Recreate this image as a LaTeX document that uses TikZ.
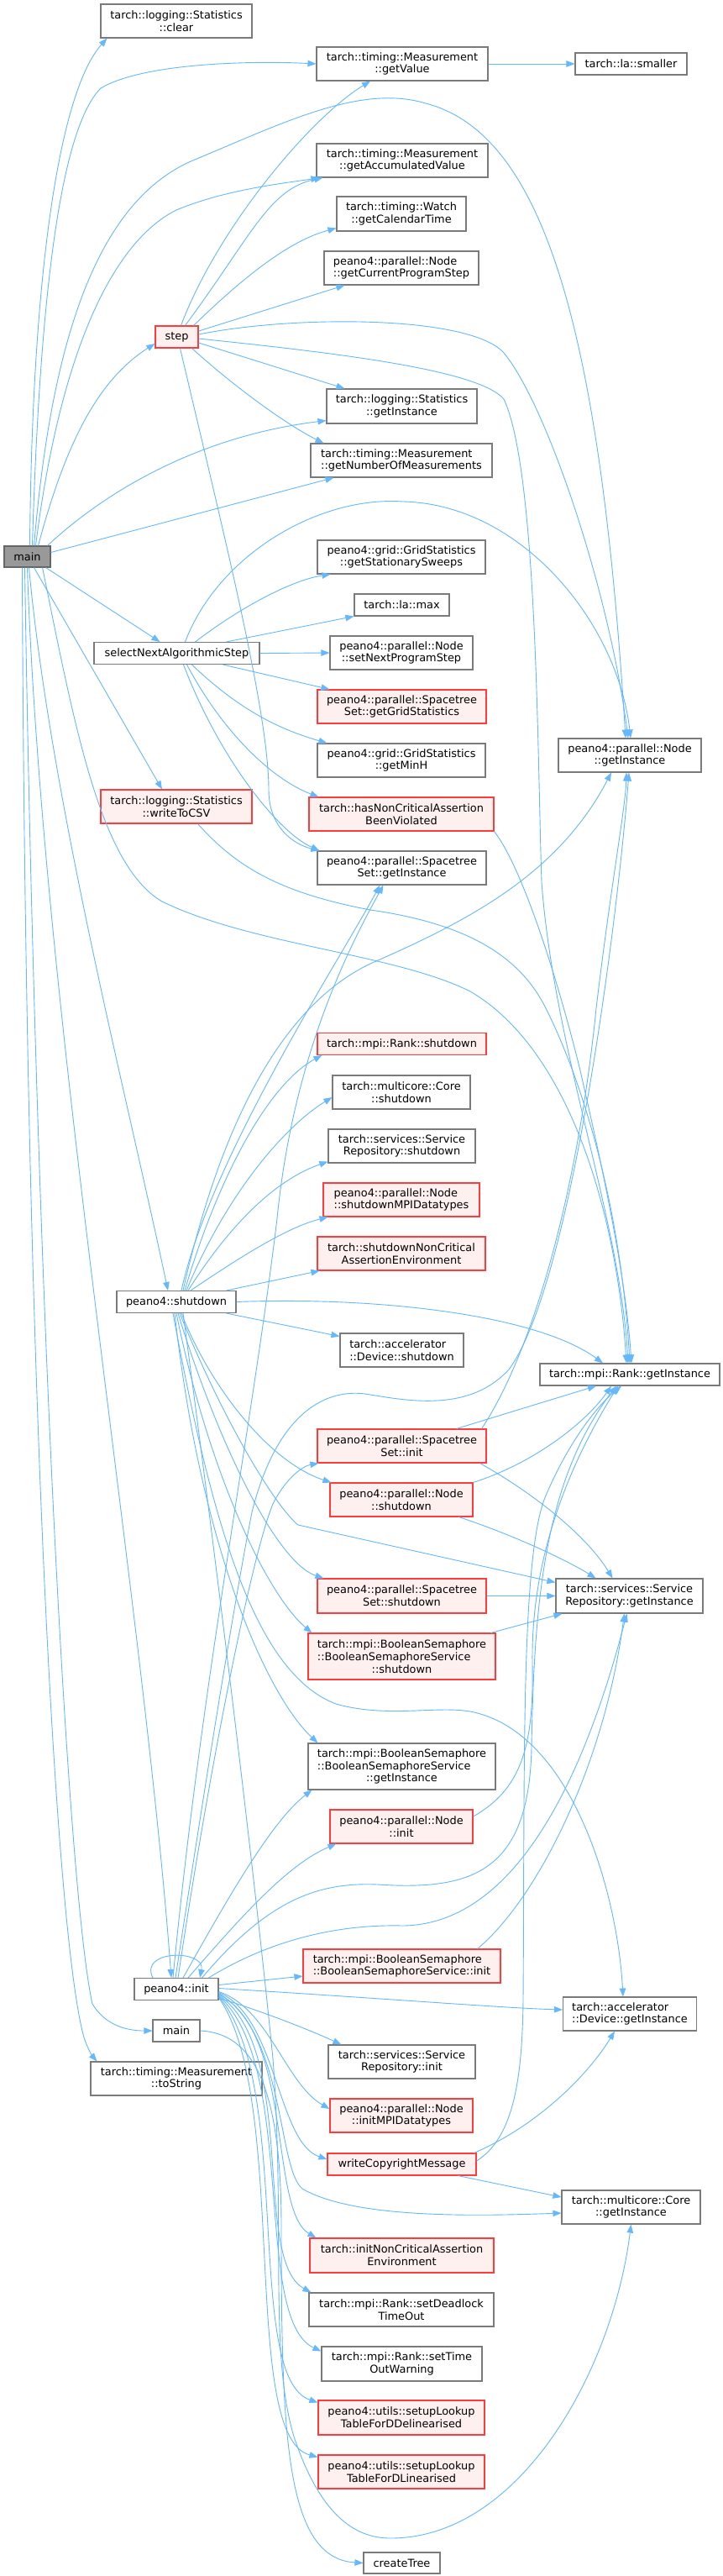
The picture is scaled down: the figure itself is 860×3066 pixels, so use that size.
\documentclass[tikz,border=0pt]{standalone}
\usepackage{fontspec}
\setmainfont{DejaVu Sans}
\usetikzlibrary{arrows.meta,calc}
\definecolor{edgeblue}{HTML}{63B8FF}
\definecolor{nodegray}{HTML}{7A7A7A}
\definecolor{redborder}{HTML}{FF3B3B}
\definecolor{redfill}{HTML}{FFF0F0}
\definecolor{mainfill}{HTML}{999999}
\definecolor{mainborder}{HTML}{666666}
\tikzset{
  fn/.style={draw=nodegray, fill=white, line width=1.1pt, inner sep=0pt, align=center,
             font=\fontsize{12.9}{14.7}\selectfont},
  redfn/.style={fn, draw=redborder, fill=redfill},
  rootfn/.style={fn, draw=mainborder, fill=mainfill},
  calls/.style={draw=edgeblue, line width=0.9pt, -{Triangle[length=10pt,width=7.5pt]}},
}
\newcommand{\bsline}[1]{\rlap{#1}\phantom{tarch::mpi::BooleanSemaphore}}
\begin{document}
\begin{tikzpicture}[x=1pt,y=-1pt]
\fill[white] (0,0) rectangle (860,3066);
\useasboundingbox (0,0) rectangle (860,3066);

% ---------- nodes ----------
\node[rootfn, minimum width=55pt, minimum height=25pt] (m1) at (32.5,662.5) {main};
\node[fn, minimum width=180pt, minimum height=40pt] (clr) at (210,25) {tarch::logging::Statistics\\::clear};
\node[fn, minimum width=204pt, minimum height=40pt] (gv) at (479,76) {tarch::timing::Measurement\\::getValue};
\node[fn, minimum width=133pt, minimum height=26pt] (sml) at (751.5,76) {tarch::la::smaller};
\node[fn, minimum width=204pt, minimum height=40pt] (gav) at (479,191) {tarch::timing::Measurement\\::getAccumulatedValue};
\node[fn, minimum width=154pt, minimum height=41pt] (gct) at (478,254.5) {tarch::timing::Watch\\::getCalendarTime};
\node[fn, align=left, minimum width=184pt, minimum height=40pt] (gcps) at (478,319) {peano4::parallel::Node\\::getCurrentProgramStep};
\node[redfn, minimum width=51pt, minimum height=26pt] (stp) at (210.5,401) {step};
\node[fn, minimum width=179pt, minimum height=41pt] (sgi) at (478.5,483.5) {tarch::logging::Statistics\\::getInstance};
\node[fn, align=left, minimum width=216pt, minimum height=40pt] (gnm) at (478,548) {tarch::timing::Measurement\\::getNumberOfMeasurements};
\node[fn, minimum width=200pt, minimum height=40pt] (gss) at (478,663) {peano4::grid::GridStatistics\\::getStationarySweeps};
\node[fn, minimum width=113pt, minimum height=26pt] (lmax) at (478.5,720) {tarch::la::max};
\node[fn, minimum width=197pt, minimum height=26pt] (snas) at (210.5,777.5) {selectNextAlgorithmicStep};
\node[fn, minimum width=170pt, minimum height=40pt] (snps) at (478,777) {peano4::parallel::Node\\::setNextProgramStep};
\node[redfn, minimum width=201pt, minimum height=40pt] (ggs) at (478.5,841) {peano4::parallel::Spacetree\\Set::getGridStatistics};
\node[fn, minimum width=200pt, minimum height=40pt] (gmh) at (478,905) {peano4::grid::GridStatistics\\::getMinH};
\node[fn, minimum width=170pt, minimum height=40pt] (ngi) at (750,899) {peano4::parallel::Node\\::getInstance};
\node[redfn, minimum width=180pt, minimum height=40pt] (wcsv) at (210,960) {tarch::logging::Statistics\\::writeToCSV};
\node[redfn, minimum width=220pt, minimum height=40pt] (hnc) at (478,969) {tarch::hasNonCriticalAssertion\\BeenViolated};
\node[fn, minimum width=201pt, minimum height=40pt] (stgi) at (478.5,1033) {peano4::parallel::Spacetree\\Set::getInstance};
\node[redfn, minimum width=201pt, minimum height=26pt] (rsd) at (478.5,1242.5) {tarch::mpi::Rank::shutdown};
\node[fn, minimum width=164pt, minimum height=40pt] (csd) at (478,1300) {tarch::multicore::Core\\::shutdown};
\node[fn, minimum width=175pt, minimum height=40pt] (srsd) at (478.5,1364) {tarch::services::Service\\Repository::shutdown};
\node[redfn, align=left, minimum width=186pt, minimum height=40pt] (smpi) at (478,1428) {peano4::parallel::Node\\::shutdownMPIDatatypes};
\node[redfn, minimum width=200pt, minimum height=40pt] (snca) at (478,1492) {tarch::shutdownNonCritical\\AssertionEnvironment};
\node[fn, minimum width=142pt, minimum height=26pt] (ps) at (210,1549.5) {peano4::shutdown};
\node[fn, align=left, minimum width=147pt, minimum height=40pt] (dsd) at (478.5,1607) {tarch::accelerator\\::Device::shutdown};
\node[fn, minimum width=214pt, minimum height=26pt] (rgi) at (750,1636) {tarch::mpi::Rank::getInstance};
\node[redfn, minimum width=201pt, minimum height=40pt] (sti) at (478.5,1721) {peano4::parallel::Spacetree\\Set::init};
\node[redfn, minimum width=170pt, minimum height=40pt] (nsd) at (478,1785) {peano4::parallel::Node\\::shutdown};
\node[fn, minimum width=175pt, minimum height=41pt] (srgi) at (749.5,1899.5) {tarch::services::Service\\Repository::getInstance};
\node[redfn, minimum width=201pt, minimum height=41pt] (sts) at (478.5,1899.5) {peano4::parallel::Spacetree\\Set::shutdown};
\node[redfn, minimum width=223pt, minimum height=55pt] (bsd) at (478.5,1971.5) {tarch::mpi::BooleanSemaphore\\\bsline{::BooleanSemaphoreService}\\::shutdown};
\node[fn, minimum width=223pt, minimum height=55pt] (bgi) at (478.5,2102.5) {tarch::mpi::BooleanSemaphore\\\bsline{::BooleanSemaphoreService}\\::getInstance};
\node[redfn, minimum width=170pt, minimum height=40pt] (ninit) at (478,2174) {peano4::parallel::Node\\::init};
\node[redfn, align=left, minimum width=235pt, minimum height=40pt] (bini) at (478.5,2340) {tarch::mpi::BooleanSemaphore\\::BooleanSemaphoreService::init};
\node[fn, minimum width=100pt, minimum height=26pt] (pinit) at (210,2367.5) {peano4::init};
\node[fn, align=left, minimum width=159pt, minimum height=40pt] (dgi) at (750,2397) {tarch::accelerator\\::Device::getInstance};
\node[fn, minimum width=56pt, minimum height=26pt] (m2) at (210,2417) {main};
\node[fn, minimum width=175pt, minimum height=40pt] (sri) at (478.5,2454) {tarch::services::Service\\Repository::init};
\node[fn, minimum width=204pt, minimum height=40pt] (ts) at (210,2474) {tarch::timing::Measurement\\::toString};
\node[redfn, minimum width=170pt, minimum height=40pt] (imd) at (478,2518) {peano4::parallel::Node\\::initMPIDatatypes};
\node[redfn, minimum width=177pt, minimum height=26pt] (wcm) at (478.5,2576) {writeCopyrightMessage};
\node[fn, minimum width=165pt, minimum height=40pt] (cgi) at (751.5,2627) {tarch::multicore::Core\\::getInstance};
\node[redfn, minimum width=219pt, minimum height=41pt] (inca) at (478.5,2684.5) {tarch::initNonCriticalAssertion\\Environment};
\node[fn, minimum width=220pt, minimum height=40pt] (sdto) at (478,2749) {tarch::mpi::Rank::setDeadlock\\TimeOut};
\node[fn, minimum width=191pt, minimum height=41pt] (stow) at (478.5,2813.5) {tarch::mpi::Rank::setTime\\OutWarning};
\node[redfn, minimum width=198pt, minimum height=41pt] (sdd) at (478,2877.5) {peano4::utils::setupLookup\\TableForDDelinearised};
\node[redfn, minimum width=198pt, minimum height=40pt] (sdl) at (478,2942) {peano4::utils::setupLookup\\TableForDLinearised};
\node[fn, minimum width=91pt, minimum height=25pt] (ct) at (478.5,3050.5) {createTree};

% ---------- edges from main ----------
\draw[calls] ($(m1.north)+(3,0)$) .. controls (38,330) and (70,110) .. ($(clr.south west)+(8,0)$);
\draw[calls] ($(m1.north)+(6,0)$) .. controls (48,330) and (75,150) .. (120,105) .. controls (170,75) and (300,72) .. (gv.west);
\draw[calls] ($(m1.north)+(8,0)$) .. controls (60,420) and (110,240) .. (232,190) .. controls (340,145) and (430,100) .. (507,123) .. controls (650,160) and (715,400) .. ($(ngi.north)+(-5,0)$);
\draw[calls] ($(m1.north)+(10,0)$) .. controls (70,430) and (130,290) .. (210,250) .. controls (270,225) and (340,218) .. ($(gav.south west)+(4,0)$);
\draw[calls] ($(m1.north)+(13,0)$) .. controls (80,520) and (120,450) .. ($(stp.west)+(0,8)$);
\draw[calls] ($(m1.north east)+(-4,0)$) .. controls (120,590) and (230,520) .. ($(sgi.south west)+(0,-4)$);
\draw[calls] ($(m1.east)+(0,-5)$) -- ($(gnm.south west)+(28,0)$);
\draw[calls] ($(m1.south east)+(-6,0)$) -- ($(snas.north)+(-20,0)$);
\draw[calls] ($(m1.south)+(8,0)$) -- ($(wcsv.north)+(-17,0)$);
\draw[calls] ($(m1.south)+(2,0)$) .. controls (60,950) and (150,1300) .. ($(ps.north)+(-10,0)$);
\draw[calls] ($(m1.south)+(0,0)$) .. controls (50,1200) and (170,1900) .. ($(pinit.north)+(-6,0)$);
\draw[calls] ($(m1.south)+(-3,0)$) .. controls (42,1500) and (80,2250) .. (110,2385) .. controls (125,2410) and (150,2417) .. (m2.west);
\draw[calls] ($(m1.south)+(-6,0)$) .. controls (30,1600) and (65,2300) .. (100,2425) .. controls (105,2440) and (110,2447) .. ($(ts.north west)+(8,0)$);
\draw[calls] ($(m1.south east)+(-10,0)$) .. controls (90,870) and (120,1030) .. (193,1073) .. controls (300,1125) and (470,1135) .. (560,1180) .. controls (680,1250) and (735,1450) .. ($(rgi.north)+(-4,0)$);

% ---------- edges from step ----------
\draw[calls] (gv.east) -- (sml.west);
\draw[calls] ($(stp.north)+(5,0)$) .. controls (260,270) and (370,140) .. ($(gv.south)+(-38,0)$);
\draw[calls] ($(stp.north)+(10,0)$) .. controls (300,280) and (320,225) .. ($(gav.south west)+(8,0)$);
\draw[calls] ($(stp.north east)+(-6,0)$) .. controls (300,320) and (350,285) .. ($(gct.south west)+(0,-4)$);
\draw[calls] ($(stp.east)+(0,-7)$) -- ($(gcps.south west)+(25,0)$);
\draw[calls] ($(stp.east)+(0,-3)$) .. controls (350,375) and (560,375) .. (600,420) .. controls (650,480) and (725,700) .. ($(ngi.north)+(-2,0)$);
\draw[calls] ($(stp.east)+(0,2)$) .. controls (400,420) and (570,440) .. (600,475) .. controls (640,560) and (640,900) .. (645,1050) .. controls (660,1250) and (738,1450) .. ($(rgi.north)+(-2,0)$);
\draw[calls] ($(stp.east)+(0,7)$) -- ($(sgi.north west)+(22,0)$);
\draw[calls] ($(stp.south east)+(-8,0)$) .. controls (290,470) and (350,510) .. ($(gnm.north west)+(16,0)$);
\draw[calls] ($(stp.south)+(4,0)$) .. controls (270,650) and (320,850) .. (320,940) .. controls (320,985) and (350,1005) .. ($(stgi.north west)+(3,0)$);

% ---------- edges from selectNextAlgorithmicStep ----------
\draw[calls] ($(snas.north)+(10,0)$) .. controls (260,660) and (380,590) .. (480,597) .. controls (620,600) and (735,740) .. ($(ngi.north)+(1,0)$);
\draw[calls] ($(snas.north)+(22,0)$) .. controls (290,720) and (350,690) .. ($(gss.south west)+(16,0)$);
\draw[calls] ($(snas.north east)+(-40,0)$) -- (lmax.south west);
\draw[calls] (snas.east) -- (snps.west);
\draw[calls] ($(snas.south east)+(-44,0)$) -- ($(ggs.north west)+(15,0)$);
\draw[calls] ($(snas.south)+(18,0)$) .. controls (290,850) and (340,870) .. ($(gmh.north west)+(12,0)$);
\draw[calls] ($(snas.south)+(12,0)$) .. controls (270,880) and (330,930) .. ($(hnc.north west)+(12,0)$);
\draw[calls] ($(snas.south)+(8,0)$) .. controls (260,900) and (330,990) .. ($(stgi.north west)+(3,0)$);

% ---------- writeToCSV, hasNonCritical ----------
\draw[calls] ($(wcsv.south east)+(-65,0)$) .. controls (280,1030) and (330,1062) .. (441,1083) .. controls (560,1100) and (620,1140) .. (650,1200) .. controls (700,1300) and (740,1450) .. ($(rgi.north)+(0,0)$);
\draw[calls] (hnc.south east) .. controls (620,1030) and (660,1150) .. (690,1270) .. controls (720,1400) and (745,1520) .. ($(rgi.north)+(2,0)$);

% ---------- edges from peano4::shutdown ----------
\draw[calls] ($(ps.north)+(6,0)$) .. controls (250,1380) and (400,1150) .. ($(stgi.south)+(-26,0)$);
\draw[calls] ($(ps.north)+(8,0)$) .. controls (260,1350) and (330,1200) .. (441,1147) .. controls (560,1095) and (665,1040) .. ($(ngi.south)+(-22,0)$);
\draw[calls] ($(ps.north)+(10,0)$) .. controls (260,1400) and (320,1290) .. ($(rsd.south west)+(6,0)$);
\draw[calls] ($(ps.north)+(12,0)$) .. controls (270,1420) and (340,1340) .. ($(csd.west)+(0,6)$);
\draw[calls] ($(ps.north)+(14,0)$) .. controls (285,1440) and (340,1400) .. ($(srsd.south west)+(0,-2)$);
\draw[calls] ($(ps.north)+(17,0)$) .. controls (295,1490) and (345,1460) .. ($(smpi.south west)+(6,0)$);
\draw[calls] ($(ps.north east)+(-12,0)$) -- ($(snca.south west)+(3,0)$);
\draw[calls] (ps.east) .. controls (450,1543) and (640,1565) .. ($(rgi.north)+(-32,0)$);
\draw[calls] ($(ps.south east)+(-12,0)$) -- ($(dsd.north west)+(0,4)$);
\draw[calls] ($(ps.south)+(6,0)$) .. controls (250,1650) and (320,1740) .. ($(nsd.north west)+(2,0)$);
\draw[calls] ($(ps.south)+(4,0)$) .. controls (270,1700) and (330,1795) .. (355,1815) -- ($(srgi.north west)+(0,5)$);
\draw[calls] ($(ps.south)+(2,0)$) .. controls (260,1720) and (330,1860) .. ($(sts.north west)+(8,0)$);
\draw[calls] ($(ps.south)+(0,0)$) .. controls (250,1760) and (320,1900) .. ($(bsd.north west)+(5,0)$);
\draw[calls] ($(ps.south)+(-2,0)$) .. controls (240,1850) and (320,2020) .. ($(bgi.north west)+(12,0)$);
\draw[calls] ($(ps.south)+(-4,0)$) .. controls (250,1800) and (300,1990) .. (400,2028) .. controls (460,2045) and (520,2030) .. (560,2037) .. controls (680,2060) and (735,2250) .. ($(dgi.north)+(-8,0)$);
\draw[calls] ($(ps.south)+(8,0)$) .. controls (250,1800) and (300,2200) .. (325,2450) .. controls (340,2650) and (320,2800) .. (350,2900) .. controls (380,2990) and (420,3021) .. (465,3021) .. controls (620,3021) and (730,2820) .. (cgi.south);

% ---------- SpacetreeSet::init, Node::shutdown, ... ----------
\draw[calls] ($(sti.north east)+(-36,0)$) -- ($(rgi.south)+(-40,0)$);
\draw[calls] ($(sti.north east)+(-6,0)$) .. controls (640,1600) and (690,1400) .. (710,1200) .. controls (728,1050) and (745,960) .. ($(ngi.south)+(-4,0)$);
\draw[calls] ($(sti.south east)+(-8,0)$) .. controls (640,1780) and (700,1830) .. ($(srgi.north)+(-20,0)$);
\draw[calls] (nsd.north east) .. controls (640,1740) and (700,1690) .. ($(rgi.south)+(-22,0)$);
\draw[calls] ($(nsd.south east)+(-17,0)$) .. controls (620,1830) and (680,1860) .. ($(srgi.north)+(-40,0)$);
\draw[calls] (sts.east) -- (srgi.west);
\draw[calls] ($(bsd.north east)+(-6,0)$) -- ($(srgi.south west)+(8,0)$);
\draw[calls] ($(ninit.east)+(0,-12)$) .. controls (620,2130) and (636,2080) .. (634,1980) .. controls (632,1850) and (680,1740) .. ($(rgi.south)+(-14,0)$);
\draw[calls] ($(bini.north east)+(-28,0)$) .. controls (640,2260) and (720,2100) .. ($(srgi.south)+(-6,0)$);

% ---------- writeCopyrightMessage ----------
\draw[calls] ($(wcm.east)+(0,-4)$) .. controls (610,2545) and (622,2480) .. (623,2380) .. controls (625,2100) and (620,1850) .. (650,1780) .. controls (680,1710) and (715,1670) .. ($(rgi.south)+(-10,0)$);
\draw[calls] ($(wcm.north east)+(-3,0)$) .. controls (640,2530) and (700,2470) .. ($(dgi.south)+(-18,0)$);
\draw[calls] ($(wcm.south east)+(-22,0)$) -- ($(cgi.west)+(0,-12)$);

% ---------- edges from peano4::init ----------
\draw[calls] ($(pinit.north)+(-28,0)$) .. controls (165,2320) and (245,2320) .. ($(pinit.north)+(28,0)$);
\draw[calls] ($(pinit.north)+(-4,0)$) .. controls (240,2000) and (300,1700) .. (330,1450) .. controls (350,1250) and (420,1120) .. ($(stgi.south)+(-22,0)$);
\draw[calls] ($(pinit.north)+(2,0)$) .. controls (250,2100) and (300,1850) .. (325,1790) .. controls (340,1760) and (360,1745) .. ($(sti.south west)+(2,0)$);
\draw[calls] ($(pinit.north)+(-1,0)$) .. controls (240,2150) and (280,1900) .. (300,1800) .. controls (330,1680) and (390,1650) .. (441,1660) .. controls (490,1668) and (560,1680) .. (606,1630) .. controls (680,1530) and (735,1100) .. ($(ngi.south)+(-1,0)$);
\draw[calls] ($(pinit.north)+(8,0)$) .. controls (260,2280) and (320,2170) .. ($(bgi.south west)+(5,0)$);
\draw[calls] ($(pinit.north)+(14,0)$) .. controls (280,2290) and (340,2220) .. ($(ninit.south west)+(8,0)$);
\draw[calls] ($(pinit.north east)+(-20,0)$) .. controls (320,2260) and (380,2240) .. (450,2243) .. controls (560,2250) and (630,2230) .. (633,2080) .. controls (636,1900) and (650,1760) .. ($(rgi.south)+(-16,0)$);
\draw[calls] ($(pinit.north east)+(-12,0)$) .. controls (320,2310) and (400,2290) .. (480,2292) .. controls (620,2290) and (700,2100) .. ($(srgi.south)+(-3,0)$);
\draw[calls] ($(pinit.east)+(0,-5)$) -- ($(bini.west)+(0,12)$);
\draw[calls] ($(pinit.east)+(0,-1)$) .. controls (450,2378) and (600,2390) .. ($(dgi.west)+(0,-5)$);
\draw[calls] ($(pinit.south east)+(0,-3)$) .. controls (300,2390) and (360,2412) .. ($(sri.north west)+(16,0)$);
\draw[calls] ($(pinit.east)+(0,3)$) .. controls (320,2390) and (340,2480) .. ($(imd.west)+(0,-8)$);
\draw[calls] ($(pinit.east)+(0,4)$) .. controls (330,2400) and (330,2550) .. ($(wcm.west)+(0,-6)$);
\draw[calls] ($(pinit.east)+(0,5)$) .. controls (340,2420) and (330,2580) .. (360,2605) .. controls (420,2640) and (560,2638) .. ($(cgi.west)+(0,7)$);
\draw[calls] ($(pinit.east)+(0,6)$) .. controls (350,2420) and (320,2630) .. ($(inca.north west)+(8,0)$);
\draw[calls] ($(pinit.east)+(0,7)$) .. controls (355,2440) and (300,2690) .. ($(sdto.north west)+(3,0)$);
\draw[calls] ($(pinit.east)+(0,8)$) .. controls (355,2460) and (300,2760) .. ($(stow.west)+(0,-15)$);
\draw[calls] ($(pinit.east)+(0,9)$) .. controls (350,2480) and (290,2830) .. ($(sdd.north west)+(0,3)$);
\draw[calls] ($(pinit.east)+(0,10)$) .. controls (345,2500) and (285,2900) .. ($(sdl.north west)+(0,3)$);

% ---------- second main ----------
\draw[calls] (m2.east) .. controls (300,2420) and (335,2480) .. (335,2650) .. controls (335,2900) and (340,3045) .. (ct.west);
\end{tikzpicture}
\end{document}
